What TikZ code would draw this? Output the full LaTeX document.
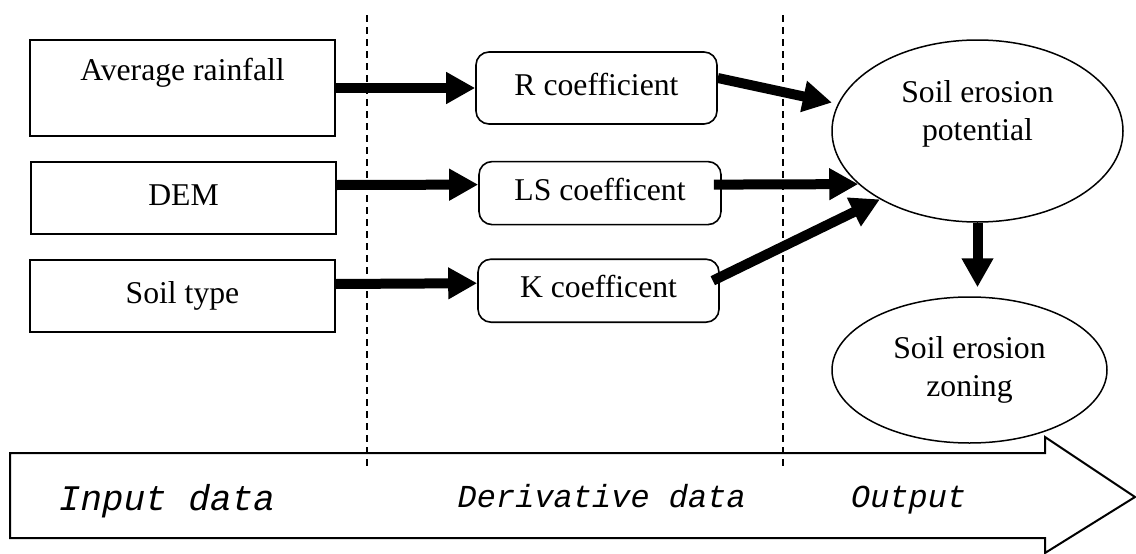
\documentclass[tikz,border=0pt]{standalone}
\usepackage{fontspec}
\setmainfont{Liberation Serif}
\setmonofont{Liberation Mono}
\newfontfamily\phasefont{Liberation Mono}[FakeSlant=0.2]
\usepackage{tikz}
\usetikzlibrary{positioning, arrows.meta, shapes}

\newcommand{\bigtxt}{\fontsize{31.7}{38}\selectfont}

\tikzset{
  databox/.style={draw, line width=2pt, minimum width=305pt, minimum height=72pt,
    font=\bigtxt, text height=22pt, text depth=8pt},
  coefbox/.style={draw, line width=1.6pt, rounded corners=13pt, minimum width=241pt,
    minimum height=63pt, font=\bigtxt, text height=22pt, text depth=8pt},
  bubble/.style={draw, ellipse, line width=1.5pt, inner sep=0pt, font=\bigtxt, align=center},
  fat/.style={->, line width=10pt},
  phase/.style={font=\phasefont\fontsize{32}{38}\selectfont, anchor=base}
}

\begin{document}
\begin{tikzpicture}[x=1pt, y=-1pt, >={Triangle[length=29pt,width=30pt]}]
\useasboundingbox (0,0) rectangle (1136,554);
\fill[white] (0,0) rectangle (1136,554);

% input data
\node[databox, minimum height=96pt, text depth=38pt] (rain) at (182.5,88) {Average rainfall};
\node[databox, below=24pt of rain, xshift=1pt] (dem) {DEM};
\node[databox, below=24pt of dem, xshift=-1pt] (soil) {Soil type};

% derivative data
\node[coefbox, minimum height=72pt] (rc) at (596.5,88) {R coefficient};
\node[coefbox, minimum width=242pt, below=36pt of rc, xshift=3.5pt] (lsc) {LS coefficent};
\node[coefbox, below=33pt of lsc, xshift=-1.5pt] (kc) {K coefficent};

% output
\node[bubble, minimum width=291pt, minimum height=182pt] (pot) at (977.5,131) {};
\node[font=\bigtxt, align=center] (pottxt) at ([yshift=17pt]pot.center) {Soil erosion\\potential};
\node[bubble, minimum width=275pt, minimum height=146pt] (zon) at (969.5,370) {Soil erosion\\zoning};

% phase separators
\draw[line width=1.5pt, dash pattern=on 7pt off 5pt] (367,15) -- (367,470);
\draw[line width=1.5pt, dash pattern=on 7pt off 5pt] (783,15) -- (783,470);

% big arrow
\draw[line width=2pt, line join=miter] (10,453) -- (1045,453) -- (1045,437) -- (1135,497)
  -- (1045,553) -- (1045,538) -- (10,538) -- cycle;
\node[phase, font=\phasefont\fontsize{36}{40}\selectfont] (inp) at (165,510) {Input data};
\node[phase] (der) at (600,507) {Derivative data};
\node[phase] (outp) at (907,507) {Output};

\draw	(rain.east) edge[fat] (rc.west)
		([yshift=13pt]dem.east) edge[fat] ([yshift=8.5pt]lsc.west)
		([yshift=12pt]soil.east) edge[fat] ([yshift=7.5pt]kc.west)
		([yshift=10pt]rc.east) edge[fat, shorten >=6pt] (pot.169)
		([xshift=-8pt,yshift=8.5pt]lsc.east) edge[fat] (pot.204)
		([xshift=-7pt,yshift=10pt]kc.east) edge[fat] (pot.215)
		(pot.south) edge[fat, shorten >=9pt] (pot.south |- zon.north);

\end{tikzpicture}
\end{document}
